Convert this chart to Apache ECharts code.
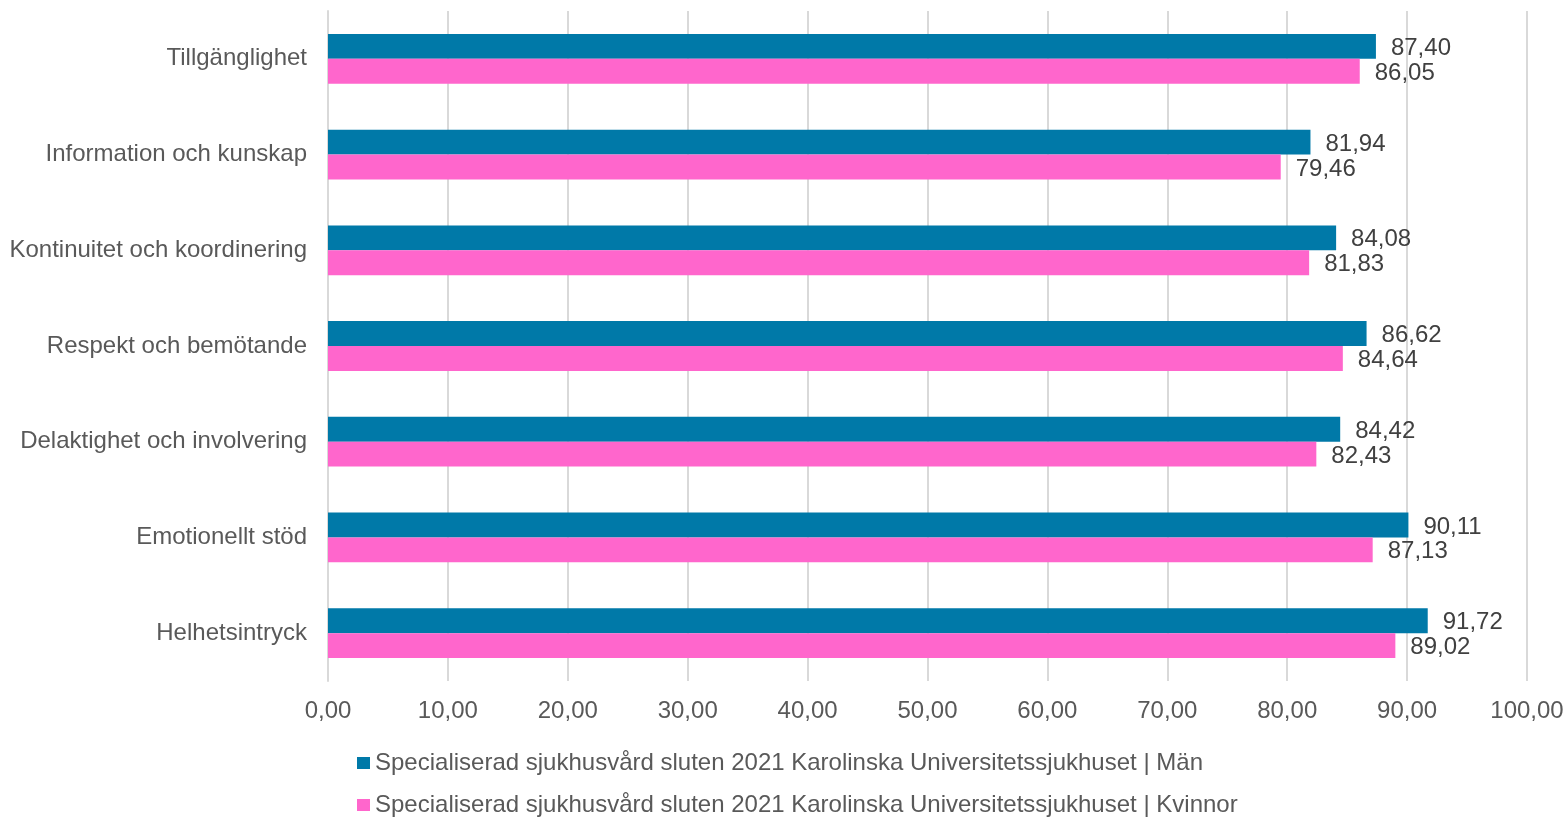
<!DOCTYPE html>
<html><head><meta charset="utf-8">
<script src="https://cdn.jsdelivr.net/npm/echarts@6/dist/echarts.min.js"></script>
<style>html,body{margin:0;padding:0;background:#fff}#c{width:1567px;height:818px}</style>
</head><body><div id="c"></div>
<script>
const categories = ["Tillgänglighet","Information och kunskap","Kontinuitet och koordinering","Respekt och bemötande","Delaktighet och involvering","Emotionellt stöd","Helhetsintryck"];
const seriesNames = ["Specialiserad sjukhusvård sluten 2021 Karolinska Universitetssjukhuset | Män","Specialiserad sjukhusvård sluten 2021 Karolinska Universitetssjukhuset | Kvinnor"];
const valuesMen = [87.40, 81.94, 84.08, 86.62, 84.42, 90.11, 91.72];
const valuesWomen = [86.05, 79.46, 81.83, 84.64, 82.43, 87.13, 89.02];
const colors = ["#0079A8", "#FF66CC"];
const fmt = v => v.toFixed(2).replace('.', ',');
const font = "'Liberation Sans', Arial, sans-serif";
const chart = echarts.init(document.getElementById('c'), null, {renderer:'canvas'});
const mk = (name, data, color) => ({
  name, type:'bar', data, barGap:'0%', barCategoryGap:'48%',
  itemStyle:{color},
  label:{show:true, position:'right', distance:15, offset:[0,2], formatter:p=>fmt(p.value), color:'#404040', fontSize:24, fontFamily:font},
  animation:false
});
const legendBase = (idx, top) => ({
  orient:'horizontal', left:352, top, itemWidth:13, itemHeight:12, icon:'rect',
  textStyle:{color:'#595959', fontSize:24, fontFamily:font},
  data:[seriesNames[idx]]
});
chart.setOption({
  animation:false,
  textStyle:{fontFamily:font},
  grid:{left:328, right:40, top:11, bottom:137, containLabel:false},
  xAxis:{type:'value', min:0, max:100, interval:10,
    axisLine:{show:false}, axisTick:{show:false},
    splitLine:{show:true, lineStyle:{color:'#D9D9D9', width:2}},
    axisLabel:{formatter:v=>fmt(v), color:'#595959', fontSize:24, fontFamily:font, margin:18}},
  yAxis:{type:'category', data:categories, inverse:true,
    axisLine:{show:true, lineStyle:{color:'#D9D9D9', width:2}}, axisTick:{show:false},
    axisLabel:{color:'#595959', fontSize:24, fontFamily:font, margin:21, padding:[4,0,0,0]}},
  legend:[legendBase(0, 746), legendBase(1, 788)],
  series:[mk(seriesNames[0], valuesMen, colors[0]), mk(seriesNames[1], valuesWomen, colors[1])]
});
</script></body></html>
